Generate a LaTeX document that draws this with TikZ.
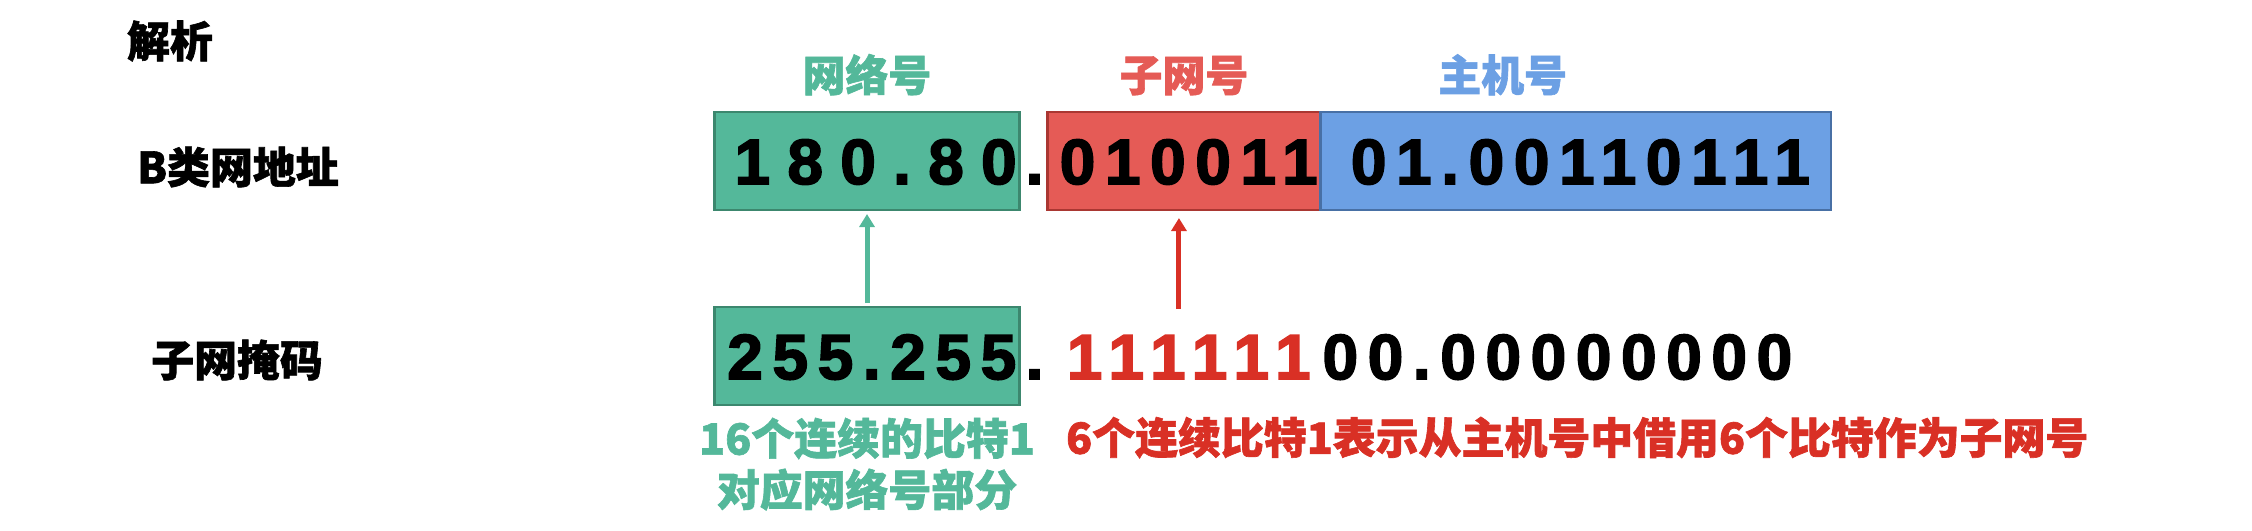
\documentclass[tikz,border=0pt]{standalone}
\usepackage{fontspec}
\setmainfont{Liberation Sans}[BoldFeatures={FakeBold=2.5}]
\newfontfamily\cjk{Noto Sans CJK SC}[BoldFeatures={FakeBold=1.5}]
\newfontfamily\bitfont{Liberation Sans}[LetterSpace=15, BoldFeatures={FakeBold=2.5}]
\newfontfamily\widebitfont{Liberation Sans}[LetterSpace=27, BoldFeatures={FakeBold=2.5}]
\usetikzlibrary{positioning,arrows.meta}
\definecolor{netgreen}{RGB}{84,184,154}
\definecolor{netedge}{RGB}{60,135,110}
\definecolor{subred}{RGB}{229,91,86}
\definecolor{subedge}{RGB}{170,55,50}
\definecolor{hostblue}{RGB}{108,160,228}
\definecolor{hostedge}{RGB}{72,112,165}
\definecolor{maskred}{RGB}{217,48,37}
\tikzset{line/.style={draw, line width=0.05cm, -{Triangle[width=0.15cm,length=0.13cm]}}}

\begin{document}
\begin{tikzpicture}[x=0.01cm, y=-0.01cm, node distance=0cm]
\tikzstyle{field} = [rectangle, draw, line width=0.025cm, minimum height=0.98cm, inner sep=0pt, outer sep=0pt, text height=0.46cm, text depth=0pt, font=\bitfont\bfseries\fontsize{18.2}{18.2}\selectfont]
\tikzstyle{bits} = [rectangle, minimum height=0.98cm, inner sep=0pt, outer sep=0pt, text height=0.46cm, text depth=0pt, font=\bitfont\bfseries\fontsize{18.2}{18.2}\selectfont]
\tikzstyle{dotmark} = [bits, font=\bfseries\fontsize{18.2}{18.2}\selectfont]
\tikzstyle{cjktext} = [inner sep=0pt, font=\cjk\bfseries\fontsize{12.2}{14.6}\selectfont]

\useasboundingbox (0,0) rectangle (2252,530);

\node [cjktext] (title) at (170,41) {解析};
\node [cjktext] (addrlabel) at (238,167) {B类网地址};
\node [cjktext] (masklabel) at (237,360) {子网掩码};

% address row
\node [field, fill=netgreen, draw=netedge, minimum width=3.05cm, font=\widebitfont\bfseries\fontsize{18.2}{18.2}\selectfont] (net) at (867,161) {180.80\kern-.27em};
\node [dotmark, right=0.06cm of net] (dot1) {.};
\node [field, fill=subred, draw=subedge, minimum width=2.73cm, right=0.04cm of dot1] (sub) {010011\kern-.15em};
\node [field, fill=hostblue, draw=hostedge, minimum width=5.10cm, right=0cm of sub] (host) {01.00110111\kern-.15em};

\node [cjktext, text=netgreen, above=0.16cm of net] (nettitle) {网络号};
\node [cjktext, text=subred, above=0.16cm of sub] (subtitle) {子网号};
\node [cjktext, text=hostblue, above=0.16cm of host, xshift=-0.73cm] (hosttitle) {主机号};

% mask row
\node [field, fill=netgreen, draw=netedge, minimum width=3.05cm, below=0.97cm of net] (mask) {255.255\kern-.15em};
\node [dotmark, right=0.06cm of mask] (dot2) {.};
\node [bits, text=maskred, minimum width=2.73cm, right=0.04cm of dot2] (ones) {111111\kern-.15em};
\node [bits, right=0.02cm of ones] (zeros) {00.00000000\kern-.15em};

\path [line, draw=netgreen, shorten <=0.04cm, shorten >=0.04cm] (mask.north) -- (net.south);
\path [line, draw=maskred, shorten <=-0.02cm, shorten >=0.08cm] ([xshift=-0.05cm]ones.north) -- ([xshift=-0.05cm]sub.south);

\node [cjktext, text=netgreen, align=center, below=0.12cm of mask] (netnote) {16个连续的比特1\\对应网络号部分};
\node [cjktext, text=maskred, below=0.11cm of ones.south west, anchor=north west, xshift=0.18cm] (subnote) {6个连续比特1表示从主机号中借用6个比特作为子网号};

\end{tikzpicture}
\end{document}
